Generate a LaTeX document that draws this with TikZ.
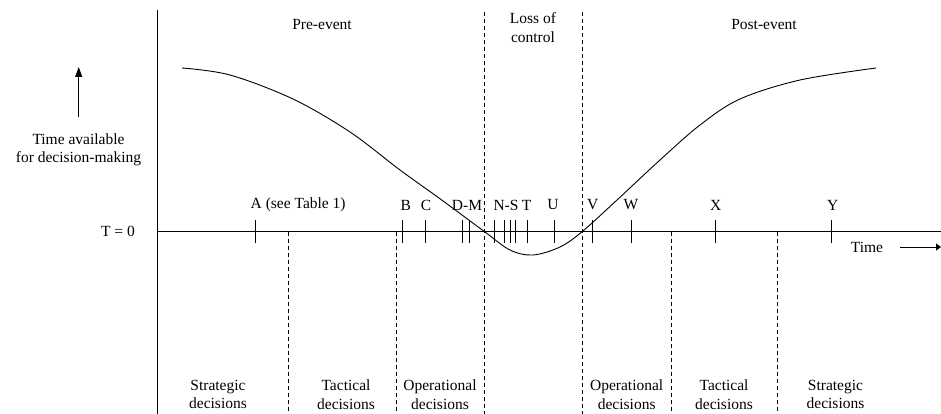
\documentclass[tikz,border=0pt]{standalone}
\usepackage{fontspec}
\setmainfont{Liberation Serif}
\usetikzlibrary{arrows.meta}
\begin{document}
\begin{tikzpicture}[x=1pt,y=-1pt,
  lbl/.style={font=\fontsize{15.5}{18.5}\selectfont, inner sep=0pt, align=center},
  axisline/.style={line width=0.9pt},
  tickmark/.style={line width=0.8pt},
  dashline/.style={line width=0.8pt, dash pattern=on 4pt off 3pt},
  curveline/.style={line width=0.9pt}]
\useasboundingbox (0,0) rectangle (941,414);
% axes
\coordinate (ytop) at (157.5,10);
\coordinate (ybot) at (157.5,414);
\coordinate (xl) at (157.5,231.5);
\coordinate (xr) at (941,231.5);
\draw[axisline] (ytop) -- (ybot);
\draw[axisline] (xl) -- (xr);
% full-height dashed lines
\coordinate (d1t) at (484.3,12); \coordinate (d1b) at (484.3,414);
\coordinate (d2t) at (582.3,12); \coordinate (d2b) at (582.3,414);
\draw[dashline] (d1t) -- (d1b);
\draw[dashline] (d2t) -- (d2b);
% lower dashed lines
\foreach \x [count=\i] in {288.7,396.5,671.5,777.5}{
  \coordinate (l\i t) at (\x,231.5);
  \coordinate (l\i b) at (\x,414);
  \draw[dashline] (l\i t) -- (l\i b);
}
% ticks
\foreach \x [count=\i] in {255,402.7,425,462,469.3,494.3,504,510.7,515.7,527,554,592.7,631,715.7,831.7}{
  \coordinate (t\i a) at (\x,220);
  \coordinate (t\i b) at (\x,243);
  \draw[tickmark] (t\i a) -- (t\i b);
}
% tick labels
\node[lbl, anchor=west] (A) at (250.5,205) {A (see Table 1)};
\node[lbl] (B) at (405.7,205) {B};
\node[lbl] (C) at (426,205) {C};
\node[lbl] (DM) at (467,205) {D-M};
\node[lbl] (NS) at (506,205) {N-S};
\node[lbl] (T) at (526.7,205) {T};
\node[lbl] (U) at (553,205) {U};
\node[lbl] (V) at (592.7,205) {V};
\node[lbl] (W) at (631,205) {W};
\node[lbl] (X) at (715.7,205) {X};
\node[lbl] (Y) at (832.7,205) {Y};
% top labels
\node[lbl] (pre) at (322,25) {Pre-event};
\node[lbl] (loss) at (533,27.5) {Loss of\\control};
\node[lbl] (post) at (764,25) {Post-event};
% left labels
\node[lbl] (tav) at (78.5,150) {Time available\\for decision-making};
\node[lbl] (t0) at (118,231.5) {T = 0};
\coordinate (ua) at (78.7,117);
\coordinate (ub) at (78.7,67);
\draw[line width=0.9pt, -{Triangle[width=7pt,length=10pt]}] (ua) -- (ub);
% time label
\node[lbl] (time) at (867,247) {Time};
\coordinate (ta) at (900,247);
\coordinate (tb) at (941,247);
\draw[line width=0.9pt, -{Triangle[width=7pt,length=5pt]}] (ta) -- (tb);
% bottom labels
\node[lbl] (s1) at (218,394.5) {Strategic\\decisions};
\node[lbl] (ta1) at (346,394.5) {Tactical\\decisions};
\node[lbl] (o1) at (440,394.5) {Operational\\decisions};
\node[lbl] (o2) at (626.7,394.5) {Operational\\decisions};
\node[lbl] (ta2) at (724,394.5) {Tactical\\decisions};
\node[lbl] (s2) at (835.5,394.5) {Strategic\\decisions};
% curve
\draw[curveline] plot[smooth, tension=0.55] coordinates {
 (182,68) (230,75) (293,99) (350,132) (400,170) (441.7,200) (484.3,231.5)
 (510,250) (533,255) (560,247) (582.3,231.5) (617,200) (660,160) (700,125)
 (740,99) (800,80) (876,68)};
\end{tikzpicture}
\end{document}
